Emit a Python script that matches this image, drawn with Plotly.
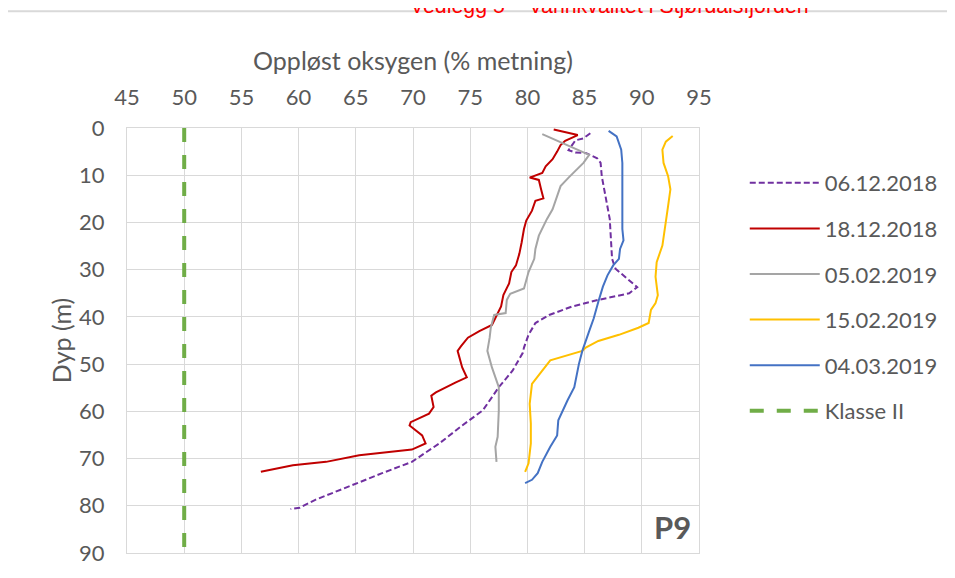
import plotly.graph_objects as go

# ---- data ----
d_0612 = [1.1, 2.2, 2.6, 4.7, 5.2, 5.3, 6.4, 7.4, 10.2, 14.4, 16.5, 19.3, 23.5, 27.7, 29.8, 33.7, 35.0, 36.4,
          37.8, 39.6, 41.3, 43.8, 46.5, 47.6, 51.4, 54.9, 59.8, 63.0, 66.8, 70.7, 73.1, 75.9, 78.7, 80.4, 80.7]
v_0612 = [85.5, 84.9, 84.2, 83.6, 84.2, 85.1, 86.1, 86.4, 86.5, 86.8, 87.0, 87.2, 87.3, 87.4, 87.7, 89.6, 88.9, 86.2,
          83.9, 81.9, 80.7, 80.1, 79.7, 79.6, 78.7, 77.5, 76.1, 74.3, 72.3, 69.9, 67.3, 64.4, 61.5, 60.1, 59.3]

d_1812 = [0.3, 1.5, 2.7, 3.6, 5.0, 6.6, 8.1, 9.5, 10.5, 11.0, 13.0, 14.9, 15.4, 17.5, 19.6, 21.4, 24.2, 26.6, 29.1,
          30.5, 32.9, 35.4, 37.8, 40.3, 41.7, 43.0, 44.4, 46.2, 47.2, 50.7, 52.8, 53.9, 56.0, 56.7, 59.1, 60.5, 62.3,
          63.0, 65.1, 66.8, 68.1, 68.6, 69.3, 70.7, 71.4, 72.8]
v_1812 = [82.3, 84.4, 83.3, 82.9, 82.6, 82.2, 81.6, 81.3, 80.2, 81.0, 81.2, 81.4, 80.7, 80.4, 79.9, 79.7, 79.5, 79.3, 79.0,
          78.6, 78.4, 77.9, 77.7, 77.2, 76.9, 75.8, 74.8, 74.2, 73.9, 74.3, 74.7, 73.7, 72.0, 71.6, 71.8, 71.4, 69.8,
          69.7, 70.8, 71.1, 69.9, 67.9, 65.3, 62.4, 59.5, 56.7]

d_0502 = [1.3, 5.7, 7.4, 8.8, 10.5, 12.3, 15.1, 17.2, 19.3, 21.4, 22.8, 25.6, 27.7, 30.5, 34.0, 35.1, 36.4, 39.2,
          39.6, 42.3, 44.4, 47.2, 50.7, 54.9, 59.8, 65.4, 67.5, 70.7]
v_0502 = [81.3, 85.4, 84.9, 84.3, 83.6, 82.9, 82.5, 82.2, 81.7, 81.3, 81.0, 80.7, 80.6, 80.1, 79.7, 78.5, 78.2, 78.1,
          77.1, 76.8, 76.7, 76.5, 76.9, 77.5, 77.5, 77.4, 77.2, 77.3]

d_1502 = [1.7, 2.9, 4.6, 7.4, 10.2, 13.0, 16.5, 20.0, 24.9, 28.4, 31.5, 35.4, 37.1, 38.5, 41.3, 42.3, 43.8, 45.1,
          46.5, 47.2, 49.2, 51.4, 54.2, 58.4, 62.6, 66.8, 71.0, 72.8]
v_1502 = [92.7, 92.1, 91.8, 91.9, 92.3, 92.5, 92.3, 92.1, 91.8, 91.3, 91.2, 91.4, 91.2, 90.8, 90.6, 89.7, 88.0, 86.2,
          85.1, 84.8, 82.0, 81.3, 80.4, 80.2, 80.3, 80.3, 80.1, 79.8]

d_0403 = [0.6, 1.8, 4.6, 7.4, 12.3, 17.9, 21.4, 23.8, 25.6, 27.7, 29.1, 31.2, 33.6, 36.8, 40.3, 43.0, 46.2, 47.2,
          50.0, 52.1, 54.9, 57.7, 61.9, 65.1, 67.5, 70.7, 73.1, 74.5, 75.2]
v_0403 = [87.1, 87.8, 88.2, 88.3, 88.3, 88.3, 88.3, 88.4, 88.1, 88.0, 87.5, 87.0, 86.6, 86.2, 85.8, 85.4, 84.9, 84.8,
          84.5, 84.3, 84.1, 83.5, 82.7, 82.6, 82.0, 81.3, 80.9, 80.4, 79.8]

klasse_x = [50, 50]
klasse_y = [0, 90]

x_ticks = [45, 50, 55, 60, 65, 70, 75, 80, 85, 90, 95]
y_ticks = [0, 10, 20, 30, 40, 50, 60, 70, 80, 90]

TXT = "#595959"
FONT = "Lato"
FS = 22

fig = go.Figure()
series = [
    ("06.12.2018", v_0612, d_0612, "#7030a0", "6px,3px", 2),
    ("18.12.2018", v_1812, d_1812, "#c00000", "solid", 2),
    ("05.02.2019", v_0502, d_0502, "#a5a5a5", "solid", 2),
    ("15.02.2019", v_1502, d_1502, "#ffc000", "solid", 2),
    ("04.03.2019", v_0403, d_0403, "#4472c4", "solid", 2),
]
for name, xv, yv, col, dash, w in series:
    fig.add_trace(go.Scatter(x=xv, y=yv, mode="lines", name=name, legendgroup=name,
                             line=dict(color=col, width=w, dash=dash)))
fig.add_trace(go.Scatter(x=klasse_x, y=klasse_y, mode="lines", name="Klasse II", legendgroup="k",
                         line=dict(color="#70ad47", width=4, dash="14px,13px")))

# the page body adds an 8px offset; margins compensate for it
fig.update_layout(
    width=947, height=570,
    margin=dict(l=119, r=255, t=120, b=21),
    paper_bgcolor="white", plot_bgcolor="white",
    font=dict(family=FONT, size=FS, color=TXT),
    showlegend=True,
    legend=dict(x=1.08, y=0.92, xanchor="left", yanchor="top",
                font=dict(family=FONT, size=FS, color=TXT), itemwidth=70,
                tracegroupgap=14, bgcolor="rgba(0,0,0,0)"),
    xaxis=dict(side="top", range=[45, 95], tickvals=x_ticks, ticktext=[str(t) for t in x_ticks],
               showgrid=True, gridcolor="#d9d9d9", gridwidth=1,
               showline=True, mirror=True, linecolor="#d9d9d9", linewidth=1,
               ticks="outside", ticklen=13, tickcolor="rgba(0,0,0,0)", zeroline=False,
               title=dict(text="Oppløst oksygen (% metning)", standoff=5,
                          font=dict(family=FONT, size=25, color=TXT))),
    yaxis=dict(range=[90, 0], tickvals=y_ticks, ticktext=[str(t) for t in y_ticks],
               showgrid=True, gridcolor="#d9d9d9", gridwidth=1,
               showline=True, mirror=True, linecolor="#d9d9d9", linewidth=1,
               ticks="outside", ticklen=17, tickcolor="rgba(0,0,0,0)", zeroline=False,
               title=dict(text="Dyp (m)", standoff=0,
                          font=dict(family=FONT, size=25, color=TXT))),
    shapes=[
        dict(type="line", xref="paper", yref="paper", x0=-0.21, x1=1.5, y0=1.275, y1=1.275,
             line=dict(color="#d9d9d9", width=2)),
        dict(type="line", xref="paper", yref="paper", x0=-0.21, x1=-0.21, y0=1.275, y1=-0.2,
             line=dict(color="#d9d9d9", width=2)),
    ],
    annotations=[
        dict(text="<b>P9</b>", xref="x domain", yref="y domain", x=1, y=0, xanchor="right",
             yanchor="bottom", xshift=-6, yshift=5, showarrow=False,
             font=dict(family=FONT, size=31, color=TXT)),
        dict(text="Vedlegg 5 – Vannkvalitet i Stjørdalsfjorden", xref="paper", yref="paper",
             x=0.844, y=1, xanchor="center", yanchor="middle", yshift=122, showarrow=False,
             font=dict(family="Liberation Sans", size=21.3, color="red")),
    ],
)

fig.write_html("out.html")
